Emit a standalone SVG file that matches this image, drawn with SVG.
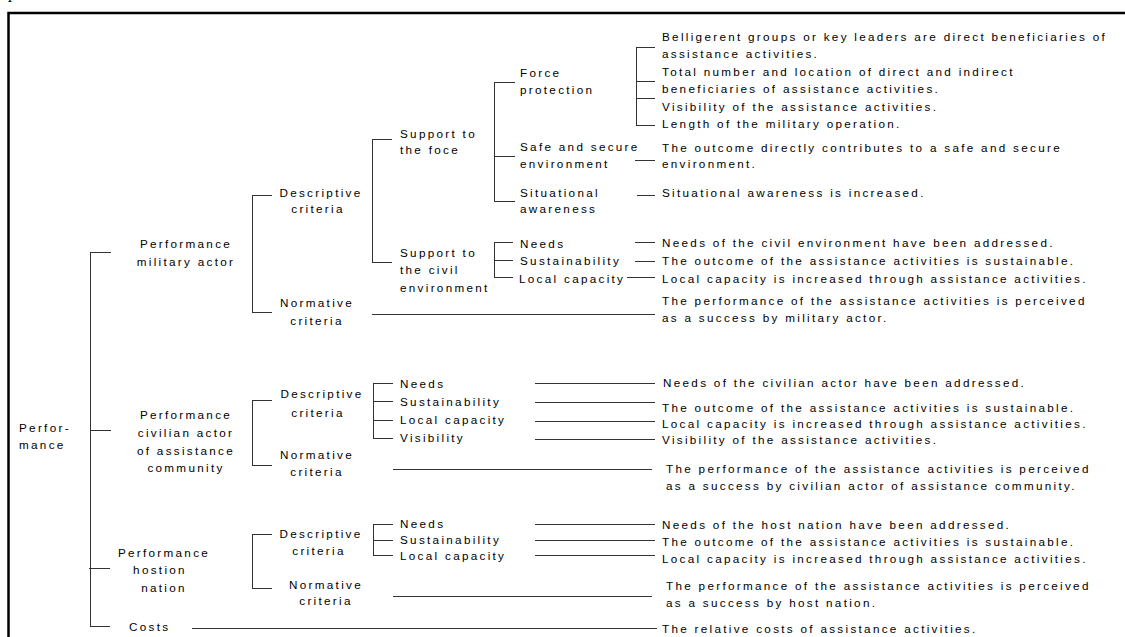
<svg xmlns="http://www.w3.org/2000/svg" width="1125" height="637" viewBox="0 0 1125 637">
<style>
.t{font-family:"Liberation Sans",Arial,sans-serif;font-size:11.7px;letter-spacing:2.3px;fill:#000}
.m{text-anchor:middle}
.c line{stroke:#333;stroke-width:1}
.f{stroke:#000;stroke-width:2.5;fill:none}
</style>
<rect width="1125" height="637" fill="#fff"/>
<text x="8" y="-2" style="font-family:'Liberation Serif',serif;font-size:16px;fill:#000">p</text>
<path class="f" d="M8.5 637 V13 H1125"/>

<g class="c" id="connectors">
<line x1="90.5" y1="252.5" x2="90.5" y2="626.5"/>
<line x1="90" y1="252.5" x2="111" y2="252.5"/>
<line x1="90" y1="430.5" x2="111" y2="430.5"/>
<line x1="89" y1="568.5" x2="110" y2="568.5"/>
<line x1="90" y1="626.5" x2="110" y2="626.5"/>
<line x1="192" y1="628.5" x2="657" y2="628.5"/>
<line x1="252.5" y1="195.5" x2="252.5" y2="312.5"/>
<line x1="252" y1="195.5" x2="272" y2="195.5"/>
<line x1="252" y1="312.5" x2="272" y2="312.5"/>
<line x1="372.5" y1="139.5" x2="372.5" y2="262.5"/>
<line x1="372" y1="139.5" x2="392" y2="139.5"/>
<line x1="372" y1="262.5" x2="392" y2="262.5"/>
<line x1="372" y1="314.5" x2="655" y2="314.5"/>
<line x1="494.5" y1="82.5" x2="494.5" y2="201.5"/>
<line x1="494" y1="82.5" x2="515" y2="82.5"/>
<line x1="494" y1="156.5" x2="515" y2="156.5"/>
<line x1="494" y1="201.5" x2="515" y2="201.5"/>
<line x1="636.5" y1="47.5" x2="636.5" y2="125.5"/>
<line x1="636" y1="47.5" x2="655" y2="47.5"/>
<line x1="636" y1="81.5" x2="655" y2="81.5"/>
<line x1="636" y1="98.5" x2="655" y2="98.5"/>
<line x1="636" y1="125.5" x2="655" y2="125.5"/>
<line x1="635" y1="160.5" x2="655" y2="160.5"/>
<line x1="637" y1="195.5" x2="655" y2="195.5"/>
<line x1="494.5" y1="242.5" x2="494.5" y2="277.5"/>
<line x1="494" y1="242.5" x2="513" y2="242.5"/>
<line x1="494" y1="260.5" x2="513" y2="260.5"/>
<line x1="494" y1="277.5" x2="513" y2="277.5"/>
<line x1="635" y1="242.5" x2="655" y2="242.5"/>
<line x1="635" y1="261.5" x2="655" y2="261.5"/>
<line x1="627" y1="277.5" x2="655" y2="277.5"/>
<line x1="252.5" y1="400.5" x2="252.5" y2="465.5"/>
<line x1="252" y1="400.5" x2="272" y2="400.5"/>
<line x1="252" y1="465.5" x2="272" y2="465.5"/>
<line x1="373.5" y1="383.5" x2="373.5" y2="438.5"/>
<line x1="373" y1="383.5" x2="393" y2="383.5"/>
<line x1="373" y1="401.5" x2="393" y2="401.5"/>
<line x1="373" y1="420.5" x2="393" y2="420.5"/>
<line x1="373" y1="438.5" x2="393" y2="438.5"/>
<line x1="535" y1="383.5" x2="655" y2="383.5"/>
<line x1="535" y1="402.5" x2="655" y2="402.5"/>
<line x1="535" y1="421.5" x2="655" y2="421.5"/>
<line x1="535" y1="439.5" x2="655" y2="439.5"/>
<line x1="393" y1="469.5" x2="652" y2="469.5"/>
<line x1="252.5" y1="534.5" x2="252.5" y2="588.5"/>
<line x1="252" y1="534.5" x2="272" y2="534.5"/>
<line x1="252" y1="588.5" x2="272" y2="588.5"/>
<line x1="373.5" y1="524.5" x2="373.5" y2="555.5"/>
<line x1="373" y1="524.5" x2="393" y2="524.5"/>
<line x1="373" y1="540.5" x2="393" y2="540.5"/>
<line x1="373" y1="555.5" x2="393" y2="555.5"/>
<line x1="535" y1="524.5" x2="655" y2="524.5"/>
<line x1="535" y1="540.5" x2="655" y2="540.5"/>
<line x1="535" y1="555.5" x2="655" y2="555.5"/>
<line x1="393" y1="596.5" x2="652" y2="596.5"/>
</g>

<g id="root"><text class="t" x="19" y="432">Perfor-</text><text class="t" x="19" y="449">mance</text></g>

<g id="perf-military"><text class="t m" x="186" y="248">Performance</text><text class="t m" x="186" y="266">military actor</text></g>
<g id="mil-descriptive"><text class="t m" x="321" y="197">Descriptive</text><text class="t m" x="318" y="213">criteria</text></g>
<g id="mil-normative"><text class="t m" x="317" y="307">Normative</text><text class="t m" x="317" y="325">criteria</text></g>
<g id="support-force"><text class="t" x="400" y="138">Support to</text><text class="t" x="400" y="154">the foce</text></g>
<g id="support-civil"><text class="t" x="400" y="257">Support to</text><text class="t" x="400" y="274">the civil</text><text class="t" x="400" y="292">environment</text></g>
<g id="force-protection"><text class="t" x="520" y="77">Force</text><text class="t" x="520" y="94">protection</text></g>
<g id="safe-env"><text class="t" x="520" y="151">Safe and secure</text><text class="t" x="520" y="168">environment</text></g>
<g id="situational"><text class="t" x="520" y="197">Situational</text><text class="t" x="520" y="213">awareness</text></g>
<g id="mil-needs"><text class="t" x="520" y="248">Needs</text></g>
<g id="mil-sust"><text class="t" x="520" y="265">Sustainability</text></g>
<g id="mil-local"><text class="t" x="519" y="283">Local capacity</text></g>

<g id="fp-desc"><text class="t" x="662" y="41">Belligerent groups or key leaders are direct beneficiaries of</text><text class="t" x="662" y="58">assistance activities.</text><text class="t" x="662" y="76">Total number and location of direct and indirect</text><text class="t" x="662" y="93">beneficiaries of assistance activities.</text><text class="t" x="662" y="111">Visibility of the assistance activities.</text><text class="t" x="662" y="128">Length of the military operation.</text></g>
<g id="safe-desc"><text class="t" x="662" y="152">The outcome directly contributes to a safe and secure</text><text class="t" x="662" y="168">environment.</text></g>
<g id="sit-desc"><text class="t" x="662" y="197">Situational awareness is increased.</text></g>
<g id="mil-needs-desc"><text class="t" x="662" y="247">Needs of the civil environment have been addressed.</text></g>
<g id="mil-sust-desc"><text class="t" x="662" y="265">The outcome of the assistance activities is sustainable.</text></g>
<g id="mil-local-desc"><text class="t" x="662" y="283">Local capacity is increased through assistance activities.</text></g>
<g id="mil-norm-desc"><text class="t" x="662" y="305">The performance of the assistance activities is perceived</text><text class="t" x="662" y="322">as a success by military actor.</text></g>

<g id="perf-civilian"><text class="t m" x="186" y="419">Performance</text><text class="t m" x="186" y="437">civilian actor</text><text class="t m" x="186" y="455">of assistance</text><text class="t m" x="186" y="472">community</text></g>
<g id="civ-descriptive"><text class="t m" x="322" y="398">Descriptive</text><text class="t m" x="318" y="417">criteria</text></g>
<g id="civ-normative"><text class="t m" x="317" y="459">Normative</text><text class="t m" x="317" y="476">criteria</text></g>
<g id="civ-needs"><text class="t" x="400" y="388">Needs</text></g>
<g id="civ-sust"><text class="t" x="400" y="406">Sustainability</text></g>
<g id="civ-local"><text class="t" x="400" y="424">Local capacity</text></g>
<g id="civ-vis"><text class="t" x="400" y="442">Visibility</text></g>
<g id="civ-needs-desc"><text class="t" x="663" y="387">Needs of the civilian actor have been addressed.</text></g>
<g id="civ-sust-desc"><text class="t" x="662" y="412">The outcome of the assistance activities is sustainable.</text></g>
<g id="civ-local-desc"><text class="t" x="662" y="428">Local capacity is increased through assistance activities.</text></g>
<g id="civ-vis-desc"><text class="t" x="662" y="444">Visibility of the assistance activities.</text></g>
<g id="civ-norm-desc"><text class="t" x="666" y="473">The performance of the assistance activities is perceived</text><text class="t" x="666" y="490">as a success by civilian actor of assistance community.</text></g>

<g id="perf-host"><text class="t m" x="164" y="557">Performance</text><text class="t m" x="160" y="574">hostion</text><text class="t m" x="164" y="592">nation</text></g>
<g id="host-descriptive"><text class="t m" x="321" y="538">Descriptive</text><text class="t m" x="319" y="555">criteria</text></g>
<g id="host-normative"><text class="t m" x="326" y="589">Normative</text><text class="t m" x="326" y="605">criteria</text></g>
<g id="host-needs"><text class="t" x="400" y="528">Needs</text></g>
<g id="host-sust"><text class="t" x="400" y="544">Sustainability</text></g>
<g id="host-local"><text class="t" x="400" y="560">Local capacity</text></g>
<g id="host-needs-desc"><text class="t" x="662" y="529">Needs of the host nation have been addressed.</text></g>
<g id="host-sust-desc"><text class="t" x="662" y="546">The outcome of the assistance activities is sustainable.</text></g>
<g id="host-local-desc"><text class="t" x="662" y="563">Local capacity is increased through assistance activities.</text></g>
<g id="host-norm-desc"><text class="t" x="666" y="590">The performance of the assistance activities is perceived</text><text class="t" x="666" y="607">as a success by host nation.</text></g>

<g id="costs"><text class="t" x="129" y="631">Costs</text></g>
<g id="costs-desc"><text class="t" x="662" y="633">The relative costs of assistance activities.</text></g>
</svg>
